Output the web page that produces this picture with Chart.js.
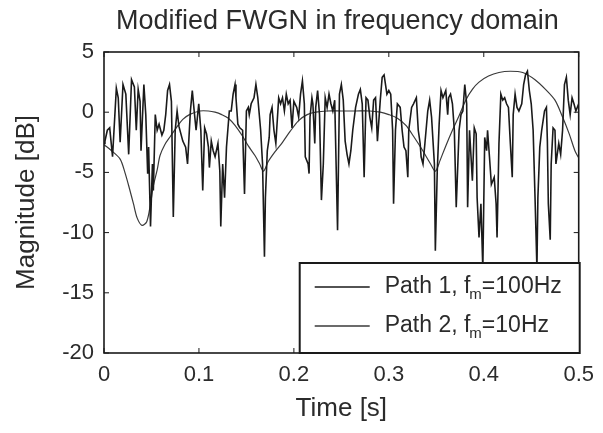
<!DOCTYPE html>
<html lang="en">
<head>
    <meta charset="UTF-8">
    <title>Modified FWGN in frequency domain</title>
    <script src="https://cdn.jsdelivr.net/npm/chart.js"></script>
    <style>
        body { margin: 0; background: #fff; }
        #wrap { width: 603px; height: 433px; }
    </style>
</head>
<body>
    <div id="wrap"><canvas id="fwgnChart"></canvas></div>

    <script>
        // Path 1, fm = 100 Hz (fast fading)
        const path1Time = [
            0, 0.001, 0.0035, 0.006, 0.009, 0.013, 0.015, 0.017, 0.020, 0.023, 0.026, 0.029, 0.032, 0.034, 0.036, 0.038, 0.039,
            0.042, 0.044, 0.046, 0.047, 0.049, 0.051, 0.052, 0.054, 0.056, 0.058, 0.061, 0.063, 0.065, 0.067, 0.069, 0.071,
            0.073, 0.075, 0.077, 0.079, 0.081, 0.083, 0.086, 0.088, 0.091, 0.093, 0.095,
            0.097, 0.0998, 0.102, 0.104, 0.106, 0.108, 0.110, 0.111, 0.113, 0.115, 0.117, 0.120, 0.122, 0.123, 0.125, 0.127,
            0.129, 0.132, 0.134, 0.136, 0.138, 0.139, 0.141, 0.143, 0.146, 0.148, 0.150, 0.152, 0.153, 0.155, 0.158, 0.160,
            0.162, 0.165, 0.167, 0.169, 0.170, 0.172, 0.174, 0.175, 0.177, 0.179, 0.181, 0.184, 0.186, 0.188, 0.190, 0.192,
            0.194, 0.196,
            0.198, 0.200, 0.203, 0.205, 0.207, 0.209, 0.211, 0.212, 0.215, 0.216, 0.217, 0.219, 0.220, 0.222, 0.223, 0.225,
            0.227, 0.229, 0.231, 0.233, 0.235, 0.237, 0.239, 0.241, 0.243, 0.246, 0.248, 0.250, 0.252, 0.254, 0.256, 0.258,
            0.260, 0.262, 0.265, 0.268, 0.270, 0.272, 0.274, 0.276, 0.278, 0.280, 0.282, 0.284, 0.286, 0.288, 0.291, 0.293,
            0.295, 0.298,
            0.300, 0.302, 0.304, 0.305, 0.307, 0.309, 0.312, 0.314, 0.316, 0.318, 0.320, 0.321, 0.324, 0.326, 0.329, 0.331,
            0.333, 0.334, 0.336, 0.338, 0.341, 0.343, 0.345, 0.348, 0.349, 0.351, 0.353, 0.355, 0.357, 0.360, 0.362, 0.363,
            0.365, 0.367, 0.369, 0.371, 0.374, 0.376, 0.378, 0.380, 0.382, 0.383, 0.385, 0.388, 0.390, 0.392, 0.393, 0.395,
            0.397, 0.399, 0.401,
            0.403, 0.404, 0.406, 0.408, 0.411, 0.413, 0.414, 0.416, 0.418, 0.420, 0.422, 0.424, 0.426, 0.428, 0.430, 0.431,
            0.433, 0.435, 0.437, 0.440, 0.442, 0.444, 0.446, 0.448, 0.450, 0.452, 0.454, 0.456, 0.457, 0.459, 0.461, 0.464,
            0.466, 0.467, 0.468, 0.470, 0.471, 0.473, 0.475, 0.476, 0.479, 0.481, 0.483, 0.485, 0.487, 0.489, 0.491, 0.493,
            0.495, 0.497, 0.500
        ];
        const path1Mag = [
            -2.6, -2.4, -1.5, -1.3, -3.7, 2.0, 1.2, -2.5, 2.3, 1.5, -3.5, 2.7, 2.1, -1.5, 1.9, 0.9, -3.2,
            2.3, -0.2, -5.1, -2.9, -9.5, -4.3, -6.5, -0.2, -1.5, -1.0, -1.9, -1.5, -0.2, 1.8, 2.3, 0.9,
            -8.7, -1.5, 0.1, -1.2, -1.8, -2.4, -2.9, -4.3, 0.1, 1.8, 0.1,
            -1.5, 0.7, -1.5, -6.5, -1.3, -1.8, -2.9, -4.6, -2.4, -3.2, -3.7, -2.6, -4.9, -9.5, -4.3, -7.1,
            -2.9, 0.1, 0.1, 1.5, 2.3, 1.2, -1.0, -1.3, -1.5, -6.8, 0.1, 0.4, -0.2, 0.7, 1.2, 2.3,
            1.2, -1.5, -4.3, -12.0, -7.1, -3.2, -2.1, -0.2, 0.4, -1.5, -2.6, 1.2, 0.7, 1.2, 0.1, 1.5,
            0.7, 1.0,
            -1.3, 0.9, 0.4, -0.4, 1.5, 2.6, 0.7, -3.7, -4.3, -5.1, -0.4, 1.2, 0.7, -2.6, 0.4, 1.8,
            -0.2, -7.3, -4.3, 1.2, 0.4, 1.5, 0.7, 0.1, 1.0, -9.8, 1.5, 2.3, 1.0, -2.4, -3.5, -4.3,
            -3.2, -1.5, 0.4, 1.5, 1.9, 0.7, -5.4, 1.2, 1.0, -0.4, -1.3, 1.0, 1.2, -2.4, 1.0, 2.9,
            3.1, 1.5,
            1.8, 1.5, -1.5, -7.6, -1.5, 0.7, 0.4, -1.5, -2.9, -3.2, -5.4, -1.5, 0.4, 0.7, 1.2, -1.5,
            -2.6, -3.7, -4.3, -2.6, 0.1, 1.0, -0.4, -4.3, -11.5, -4.9, -1.0, 1.8, 1.2, 1.8, -0.2, 1.2,
            1.5, 0.7, -1.5, -7.9, -1.5, -0.2, 0.1, 2.3, 0.7, -7.9, -1.5, -5.7, -1.3, -1.8, -7.1, -10.4,
            -7.6, -13.0, -2.1,
            -3.2, -1.5, -3.7, -6.0, -5.4, -7.6, -10.4, -2.6, 1.5, 1.0, 1.2, 0.7, 0.4, -2.6, -5.4, -0.2,
            1.5, 0.4, 0.1, 0.7, 2.3, 3.1, 3.4, 1.8, 0.7, -1.5, -7.1, -13.0, -7.1, -2.9, -1.5, 0.1,
            0.4, -2.4, -7.6, -10.6, -4.3, -1.3, -1.5, -4.3, -2.6, -3.5, -1.5, 2.3, 2.9, 1.0, -0.2, 1.2,
            0.7, 0.1, 0.7
        ];

        // Path 2, fm = 10 Hz (slow fading)
        const path2Time = [
            0, 0.008, 0.017, 0.022, 0.027, 0.031, 0.035, 0.040, 0.045, 0.049, 0.052, 0.056, 0.059, 0.064, 0.070, 0.077,
            0.083, 0.090, 0.101, 0.110, 0.117, 0.124, 0.131, 0.138, 0.146, 0.152, 0.159, 0.164, 0.168, 0.173, 0.180, 0.188,
            0.196, 0.205, 0.214, 0.223, 0.235, 0.250, 0.265, 0.280, 0.291, 0.300, 0.309, 0.318, 0.326, 0.335, 0.344, 0.349,
            0.354, 0.360, 0.367, 0.374, 0.381, 0.388, 0.395, 0.405, 0.416, 0.428, 0.441, 0.454, 0.465, 0.475, 0.483, 0.490,
            0.496, 0.500
        ];
        const path2Mag = [
            -2.7, -3.2, -3.9, -5.0, -6.4, -7.6, -8.8, -9.4, -9.1, -7.6, -6.1, -4.8, -3.6, -2.7, -2.0, -1.2,
            -0.6, -0.2, 0.1, 0.1, 0.0, -0.2, -0.5, -1.1, -2.0, -2.8, -3.6, -4.3, -4.9, -4.1, -3.3, -2.5,
            -1.6, -0.7, -0.2, 0.0, 0.1, 0.1, 0.1, 0.1, 0.0, -0.2, -0.5, -1.1, -2.0, -3.1, -4.3, -4.9,
            -4.0, -2.8, -1.5, -0.3, 1.0, 1.9, 2.5, 3.0, 3.3, 3.4, 3.3, 2.7, 1.9, 1.0, -0.4, -1.8,
            -3.2, -3.8
        ];

        const xTicks = [0, 0.1, 0.2, 0.3, 0.4, 0.5];
        const yTicks = [-20, -15, -10, -5, 0, 5];
        const chartTitle = "Modified FWGN in frequency domain";
        const legendLabels = [["Path 1, f", "m", "=100Hz"], ["Path 2, f", "m", "=10Hz"]];

        const toPoints = (t, m) => t.map((v, i) => ({ x: v, y: m[i] }));
        const textColor = "#2b2b2b";
        const fontFamily = "'Liberation Sans', Arial, sans-serif";

        // title over the plot area, frame with inward ticks, legend box on top of the lines
        const framePlugin = {
            id: "frame",
            afterDatasetsDraw(chart) {
                const ctx = chart.ctx;
                const a = chart.chartArea;
                const xs = chart.scales.x, ys = chart.scales.y;
                ctx.save();

                ctx.fillStyle = textColor;
                ctx.font = "27px " + fontFamily;
                ctx.textAlign = "center";
                ctx.textBaseline = "middle";
                ctx.fillText(chartTitle, (a.left + a.right) / 2 - 4, 22);
                ctx.textAlign = "left";

                ctx.strokeStyle = "#1a1a1a";
                ctx.lineWidth = 1.6;
                ctx.strokeRect(a.left, a.top, a.right - a.left, a.bottom - a.top);
                ctx.lineWidth = 1;
                const tl = 5;
                xTicks.forEach(v => {
                    const px = xs.getPixelForValue(v);
                    ctx.beginPath();
                    ctx.moveTo(px, a.bottom); ctx.lineTo(px, a.bottom - tl);
                    ctx.moveTo(px, a.top); ctx.lineTo(px, a.top + tl);
                    ctx.stroke();
                });
                yTicks.forEach(v => {
                    const py = ys.getPixelForValue(v);
                    ctx.beginPath();
                    ctx.moveTo(a.left, py); ctx.lineTo(a.left + tl, py);
                    ctx.moveTo(a.right, py); ctx.lineTo(a.right - tl, py);
                    ctx.stroke();
                });

                // legend
                const lw = 280, lh = 90;
                const lx = a.right - lw + 1, ly = a.bottom - lh;
                ctx.fillStyle = "#fff";
                ctx.fillRect(lx, ly, lw, lh);
                ctx.lineWidth = 2;
                ctx.strokeStyle = "#1a1a1a";
                ctx.strokeRect(lx, ly, lw, lh);
                chart.data.datasets.forEach((ds, i) => {
                    const cy = ly + 24 + i * 39;
                    ctx.strokeStyle = ds.borderColor;
                    ctx.lineWidth = 1.3;
                    ctx.beginPath();
                    ctx.moveTo(lx + 15, cy); ctx.lineTo(lx + 70, cy);
                    ctx.stroke();
                    const [pre, sub, post] = legendLabels[i];
                    ctx.fillStyle = textColor;
                    ctx.textBaseline = "middle";
                    ctx.font = "23px " + fontFamily;
                    let tx = lx + 85;
                    ctx.fillText(pre, tx, cy);
                    tx += ctx.measureText(pre).width;
                    ctx.font = "15px " + fontFamily;
                    ctx.fillText(sub, tx - 1, cy + 8);
                    tx += ctx.measureText(sub).width - 1;
                    ctx.font = "23px " + fontFamily;
                    ctx.fillText(post, tx, cy);
                });
                ctx.restore();
            }
        };

        new Chart(document.getElementById("fwgnChart"), {
            type: "line",
            data: {
                datasets: [
                    {
                        label: "Path 1, fm=100Hz",
                        data: toPoints(path1Time, path1Mag),
                        borderColor: "#1a1a1a",
                        borderWidth: 1.6,
                        pointRadius: 0,
                        tension: 0
                    },
                    {
                        label: "Path 2, fm=10Hz",
                        data: toPoints(path2Time, path2Mag),
                        borderColor: "#3a3a3a",
                        borderWidth: 1.2,
                        pointRadius: 0,
                        tension: 0.3
                    }
                ]
            },
            options: {
                responsive: true,
                maintainAspectRatio: false,
                animation: false,
                layout: { padding: { left: 0, right: 22, top: 52, bottom: 0 } },
                plugins: {
                    legend: { display: false },
                    tooltip: { enabled: false },
                    title: { display: false }
                },
                scales: {
                    x: {
                        type: "linear",
                        min: 0,
                        max: 0.5,
                        grid: { display: false, drawTicks: false },
                        border: { display: false },
                        afterBuildTicks: s => { s.ticks = xTicks.map(v => ({ value: v })); },
                        afterFit: s => { s.height = 80; },
                        ticks: {
                            color: textColor,
                            padding: 9,
                            maxRotation: 0,
                            font: { family: fontFamily, size: 22 },
                            callback: v => String(v)
                        },
                        title: {
                            display: true,
                            text: "Time [s]",
                            color: textColor,
                            font: { family: fontFamily, size: 26 },
                            padding: { top: 4, bottom: 9 }
                        }
                    },
                    y: {
                        min: -20,
                        max: 5,
                        grid: { display: false, drawTicks: false },
                        border: { display: false },
                        afterBuildTicks: s => { s.ticks = yTicks.map(v => ({ value: v })); },
                        afterFit: s => { s.width = 104; },
                        ticks: {
                            color: textColor,
                            padding: 10,
                            font: { family: fontFamily, size: 22 }
                        },
                        title: {
                            display: true,
                            text: "Magnitude [dB]",
                            color: textColor,
                            font: { family: fontFamily, size: 26 },
                            padding: { top: 11, bottom: 4 }
                        }
                    }
                }
            },
            plugins: [framePlugin]
        });
    </script>
</body>
</html>
